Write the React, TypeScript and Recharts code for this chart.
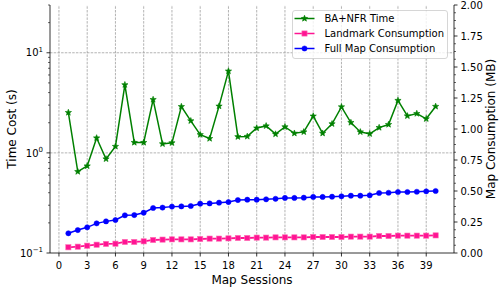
import { ComposedChart, Line, XAxis, YAxis, ReferenceLine, Legend } from "recharts"

// values
const sessions = [1, 2, 3, 4, 5, 6, 7, 8, 9, 10, 11, 12, 13, 14, 15, 16, 17, 18, 19, 20, 21, 22, 23, 24, 25, 26, 27, 28, 29, 30, 31, 32, 33, 34, 35, 36, 37, 38, 39, 40]
const baNfrTime = [2.53, 0.65, 0.74, 1.41, 0.87, 1.16, 4.79, 1.27, 1.27, 3.41, 1.23, 1.26, 2.9, 2.09, 1.52, 1.39, 2.93, 6.56, 1.45, 1.46, 1.77, 1.86, 1.54, 1.82, 1.57, 1.62, 2.33, 1.57, 1.95, 2.88, 2.01, 1.62, 1.55, 1.79, 1.92, 3.34, 2.34, 2.47, 2.19, 2.91]
const landmarkMB = [0.046, 0.051, 0.059, 0.067, 0.073, 0.075, 0.089, 0.089, 0.094, 0.105, 0.108, 0.11, 0.11, 0.11, 0.113, 0.116, 0.116, 0.118, 0.121, 0.121, 0.124, 0.124, 0.126, 0.126, 0.126, 0.126, 0.129, 0.129, 0.129, 0.129, 0.132, 0.132, 0.132, 0.137, 0.137, 0.14, 0.14, 0.14, 0.14, 0.142]
const fullMapMB = [0.159, 0.185, 0.207, 0.239, 0.255, 0.266, 0.304, 0.306, 0.325, 0.363, 0.366, 0.374, 0.376, 0.379, 0.398, 0.4, 0.406, 0.411, 0.427, 0.43, 0.43, 0.433, 0.437, 0.444, 0.444, 0.446, 0.452, 0.452, 0.454, 0.457, 0.462, 0.462, 0.465, 0.484, 0.486, 0.492, 0.492, 0.494, 0.497, 0.5]

const xTicks = [0, 3, 6, 9, 12, 15, 18, 21, 24, 27, 30, 33, 36, 39]
const leftMajor = [0.1, 1, 10]
const leftTicks = [0.1, 0.2, 0.3, 0.4, 0.5, 0.6, 0.7, 0.8, 0.9, 1, 2, 3, 4, 5, 6, 7, 8, 9, 10, 20, 30]
const rightMajor = [0, 0.25, 0.5, 0.75, 1, 1.25, 1.5, 1.75, 2]
const rightTicks = rightMajor.flatMap((v) => (v < 2 ? [v, v + 0.0625, v + 0.125, v + 0.1875] : [v]))

const data = sessions.map((s, i) => ({
  session: s,
  time: baNfrTime[i],
  landmark: landmarkMB[i],
  fullMap: fullMapMB[i],
}))

const FONT = "DejaVu Sans, sans-serif"
const GREEN = "#008000"
const PINK = "#ff1493"
const BLUE = "#0000ff"

function Marker({ kind, cx, cy, color }: any) {
  if (cx == null || cy == null) return null
  if (kind === "star") {
    const pts = []
    for (let k = 0; k < 10; k++) {
      const r = k % 2 === 0 ? 3.3 : 1.4
      const a = -Math.PI / 2 + (k * Math.PI) / 5
      pts.push(`${cx + r * Math.cos(a)},${cy + r * Math.sin(a)}`)
    }
    return <polygon points={pts.join(" ")} fill={color} stroke={color} strokeWidth={0.6} />
  }
  if (kind === "square") {
    return <rect x={cx - 2.6} y={cy - 2.6} width={5.2} height={5.2} fill={color} stroke="#ff6eb4" strokeWidth={0.6} />
  }
  return <circle cx={cx} cy={cy} r={2.6} fill={color} stroke={color} strokeWidth={0.5} />
}

// legend order follows the plotting order
const legendOrder = ["time", "landmark", "fullMap"]
const markerOf: Record<string, string> = { time: "star", landmark: "square", fullMap: "circle" }

function LeftTick({ x, y, payload }: any) {
  const v = payload.value
  const e = Math.round(Math.log10(v))
  const major = leftMajor.includes(v)
  return (
    <g>
      <line x1={x} x2={x - (major ? 3.5 : 2)} y1={y} y2={y} stroke="#000" strokeWidth={major ? 0.8 : 0.6} />
      {major && (
        <text x={x - 7} y={y + 3.7} textAnchor="end" fontSize={10} fontFamily={FONT} fill="#000">
          10
          <tspan dy={-4.5} fontSize={7}>{e < 0 ? "\u2212" + -e : e}</tspan>
        </text>
      )}
    </g>
  )
}

function RightTick({ x, y, payload }: any) {
  const v = payload.value
  const major = rightMajor.includes(v)
  return (
    <g>
      <line x1={x} x2={x + (major ? 3.5 : 2)} y1={y} y2={y} stroke="#000" strokeWidth={major ? 0.8 : 0.6} />
      {major && (
        <text x={x + 6.5} y={y + 3.7} textAnchor="start" fontSize={10} fontFamily={FONT} fill="#000">
          {v.toFixed(2)}
        </text>
      )}
    </g>
  )
}

function BottomTick({ x, y, payload }: any) {
  return (
    <g>
      <line x1={x} x2={x} y1={y} y2={y + 3.5} stroke="#000" strokeWidth={0.8} />
      <text x={x} y={y + 15.5} textAnchor="middle" fontSize={10} fontFamily={FONT} fill="#000">
        {payload.value}
      </text>
    </g>
  )
}

function LegendBox({ payload }: any) {
  const items = (payload || [])
    .filter((p: any) => markerOf[p.dataKey])
    .sort((a: any, b: any) => legendOrder.indexOf(a.dataKey) - legendOrder.indexOf(b.dataKey))
  return (
    <svg width={157} height={50} style={{ display: "block" }}>
      <rect x={0.5} y={0.5} width={155} height={48} rx={2.5} fill="rgba(255,255,255,0.8)" stroke="#cccccc" strokeWidth={0.8} />
      {items.map((p: any, i: number) => {
        const cy = 8.5 + i * 15
        return (
          <g key={p.dataKey}>
            <line x1={2.5} x2={22.5} y1={cy} y2={cy} stroke={p.color} strokeWidth={1.5} />
            <Marker kind={markerOf[p.dataKey]} cx={12.5} cy={cy} color={p.color} />
            <text x={32.5} y={cy + 3.6} fontSize={10} fontFamily={FONT} fill="#000">
              {p.value}
            </text>
          </g>
        )
      })}
    </svg>
  )
}

export default function App() {
  return (
    <div style={{ position: "absolute", left: 0, top: 0, width: 504, height: 288, background: "#fff" }}>
      <ComposedChart width={504} height={288} data={data} margin={{ top: 5, right: 0, left: 0, bottom: 0 }}>
        <XAxis
          dataKey="session"
          type="number"
          domain={[-0.95, 41.95]}
          ticks={xTicks}
          allowDataOverflow
          height={35}
          tickSize={0}
          tickMargin={0}
          tickLine={false}
          tick={<BottomTick />}
          axisLine={{ stroke: "#000", strokeWidth: 0.8 }}
          label={{
            content: () => (
              <text x={252} y={283.5} textAnchor="middle" fontSize={12} fontFamily={FONT} fill="#000">
                Map Sessions
              </text>
            ),
          }}
        />
        <XAxis
          xAxisId="top"
          orientation="top"
          type="number"
          domain={[-0.95, 41.95]}
          height={0}
          tick={false}
          tickLine={false}
          axisLine={{ stroke: "#000", strokeWidth: 0.8 }}
        />
        <YAxis
          yAxisId="left"
          type="number"
          scale="log"
          domain={[0.1, 30]}
          allowDataOverflow
          ticks={leftTicks}
          interval={0}
          width={50}
          tickSize={0}
          tickMargin={0}
          tickLine={false}
          tick={<LeftTick />}
          axisLine={{ stroke: "#000", strokeWidth: 0.8 }}
          label={{
            content: () => (
              <text x={15.5} y={129} transform="rotate(-90 15.5 129)" textAnchor="middle" fontSize={12} fontFamily={FONT} fill="#000">
                Time Cost (s)
              </text>
            ),
          }}
        />
        <YAxis
          yAxisId="right"
          orientation="right"
          type="number"
          domain={[0, 2]}
          allowDataOverflow
          ticks={rightTicks}
          interval={0}
          width={50}
          tickSize={0}
          tickMargin={0}
          tickLine={false}
          tick={<RightTick />}
          axisLine={{ stroke: "#000", strokeWidth: 0.8 }}
          label={{
            content: () => (
              <text x={495} y={129} transform="rotate(-90 495 129)" textAnchor="middle" fontSize={12} fontFamily={FONT} fill="#000">
                Map Consumption (MB)
              </text>
            ),
          }}
        />
        {xTicks.map((t) => (
          <ReferenceLine key={"gx" + t} x={t} yAxisId="left" stroke="#a0a0a0" strokeWidth={0.8} strokeDasharray="2.5 1.2" />
        ))}
        {leftMajor.slice(1).map((t) => (
          <ReferenceLine key={"gy" + t} y={t} yAxisId="left" stroke="#a0a0a0" strokeWidth={0.8} strokeDasharray="2.5 1.2" />
        ))}
        <Legend
          verticalAlign="middle"
          layout="horizontal"
          content={<LegendBox />}
          wrapperStyle={{ position: "absolute", left: 292, top: 9.5, width: 157, height: 50 }}
        />
        <Line
          yAxisId="left"
          dataKey="time"
          name="BA+NFR Time"
          stroke={GREEN}
          strokeWidth={1.5}
          isAnimationActive={false}
          dot={(p: any) => <Marker key={"t" + p.index} kind="star" cx={p.cx} cy={p.cy} color={GREEN} />}
          activeDot={false}
        />
        <Line
          yAxisId="right"
          dataKey="landmark"
          name="Landmark Consumption"
          stroke={PINK}
          strokeWidth={1.8}
          isAnimationActive={false}
          dot={(p: any) => <Marker key={"l" + p.index} kind="square" cx={p.cx} cy={p.cy} color={PINK} />}
          activeDot={false}
        />
        <Line
          yAxisId="right"
          dataKey="fullMap"
          name="Full Map Consumption"
          stroke={BLUE}
          strokeWidth={1.5}
          isAnimationActive={false}
          dot={(p: any) => <Marker key={"f" + p.index} kind="circle" cx={p.cx} cy={p.cy} color={BLUE} />}
          activeDot={false}
        />
      </ComposedChart>
    </div>
  )
}
